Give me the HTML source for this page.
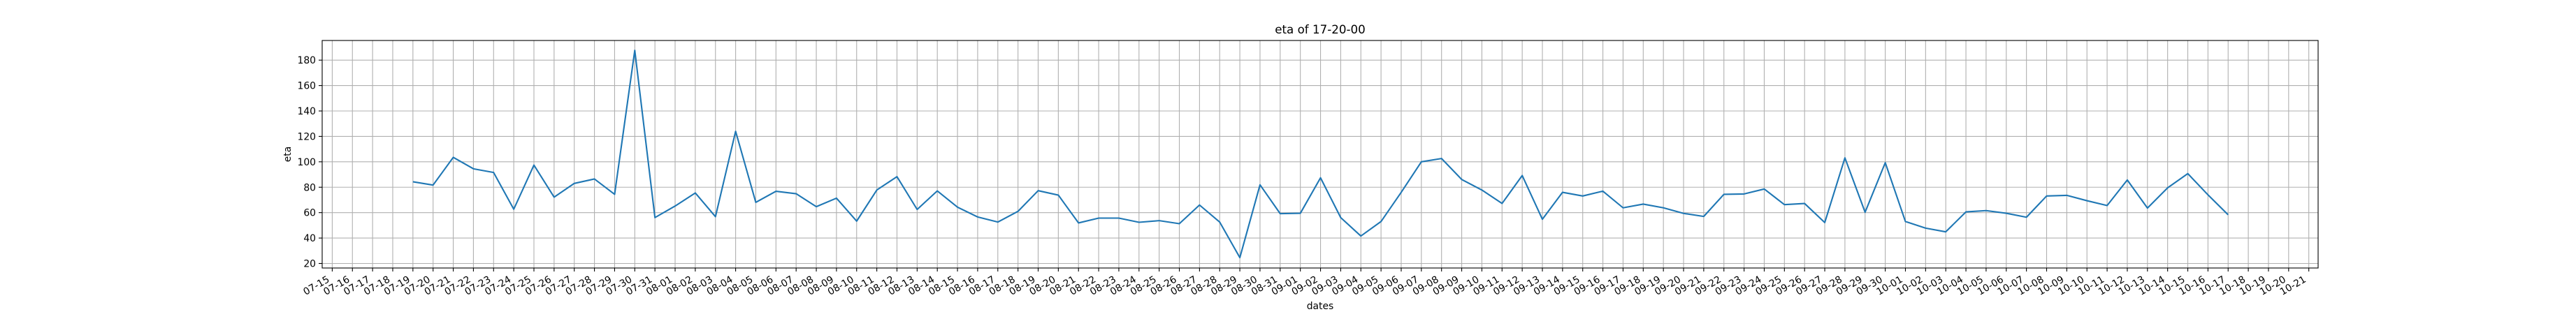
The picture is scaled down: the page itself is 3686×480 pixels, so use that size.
<!DOCTYPE html>
<html><head><meta charset="utf-8"><style>
html,body{margin:0;padding:0;background:#fff;}
svg{display:block;font-family:"DejaVu Sans","Liberation Sans",sans-serif;}
</style></head>
<body>
<svg id="chart" width="3686" height="480" viewBox="0 0 3686 480" xmlns="http://www.w3.org/2000/svg">
<rect width="3686" height="480" fill="#fff"/>
<g id="grid"></g>
<g id="series"></g>
<rect x="461" y="58" width="2856" height="326" fill="none" stroke="#000" stroke-width="1.1"/>
<g id="axes"></g>
<text x="1889" y="48" font-size="16.7" text-anchor="middle">eta of 17-20-00</text>
<text x="1889" y="443" font-size="13.9" text-anchor="middle">dates</text>
<text x="0" y="0" font-size="13.9" text-anchor="middle" transform="translate(416,221) rotate(-90)">eta</text>
</svg>
<script>
const startDate = "07-19";
const etaValues = [84.3,81.7,103.5,94.5,91.6,62.7,97.4,72.2,83.0,86.5,74.4,187.7,56.1,
65.2,75.5,56.8,124.0,68.1,76.8,74.9,64.7,71.4,53.3,77.8,88.3,62.5,77.1,64.3,56.6,52.6,61.0,77.3,73.8,51.9,55.7,55.7,52.4,53.7,51.3,66.0,52.6,24.6,81.9,59.2,
59.5,87.4,56.1,41.6,53.0,76.0,100.0,102.6,86.1,77.8,67.2,89.2,54.8,76.0,73.1,76.9,63.8,66.7,63.8,59.4,57.0,74.4,74.7,78.6,66.3,67.2,52.2,103.1,60.3,99.3,
53.0,47.8,44.9,60.6,61.6,59.5,56.4,73.1,73.6,69.4,65.6,85.7,63.6,79.5,90.7,74.0,58.3];
const yTicks = [20,40,60,80,100,120,140,160,180];
const monthLengths = {"07":31,"08":31,"09":30,"10":31};
const tickStart = "07-15";
const tickCount = 99;

function nextDay(s){
  let m=s.slice(0,2), d=parseInt(s.slice(3),10)+1;
  if(d>monthLengths[m]){d=1;m=String(parseInt(m,10)+1).padStart(2,"0");}
  return m+"-"+String(d).padStart(2,"0");
}
const tickLabels=[]; {let s=tickStart; for(let i=0;i<tickCount;i++){tickLabels.push(s); s=nextDay(s);}}

const X0=475.4, DX=28.86;
function xScale(label){return X0+tickLabels.indexOf(label)*DX;}
function yScale(v){return 377.5-(v-20)*1.8208;}

const NS="http://www.w3.org/2000/svg";
const grid=document.getElementById("grid"), axes=document.getElementById("axes"), series=document.getElementById("series");
function mk(tag,attrs,parent){const e=document.createElementNS(NS,tag);for(const k in attrs)e.setAttribute(k,attrs[k]);parent.appendChild(e);return e;}

tickLabels.forEach(lbl=>{
  const x=xScale(lbl);
  const g=mk("line",{x1:x,x2:x,y1:58,y2:384,stroke:"#b0b0b0","stroke-width":1.1},grid);
  
  
  const t=mk("line",{x1:x,x2:x,y1:384,y2:389,stroke:"#000","stroke-width":1.1},axes);
  
  
  const tx=mk("text",{x:0,y:0,"font-size":13.9,"text-anchor":"end",transform:`translate(${x-3},403) rotate(-30)`},axes);
  tx.textContent=lbl;
  
  
});
yTicks.forEach(v=>{
  const y=yScale(v);
  const g=mk("line",{x1:461,x2:3317,y1:y,y2:y,stroke:"#b0b0b0","stroke-width":1.1},grid);
  
  
  const t=mk("line",{x1:456,x2:461,y1:y,y2:y,stroke:"#000","stroke-width":1.1},axes);
  
  
  const tx=mk("text",{x:452,y:y+5,"font-size":13.9,"text-anchor":"end"},axes);
  tx.textContent=String(v);
  
  
});
let d=startDate; const pts=[];
etaValues.forEach(v=>{pts.push(xScale(d).toFixed(2)+","+yScale(v).toFixed(2)); d=nextDay(d);});
const line=mk("polyline",{points:pts.join(" "),fill:"none",stroke:"#1f77b4","stroke-width":2.1,"stroke-linejoin":"round"},series);


</script>
</body></html>
